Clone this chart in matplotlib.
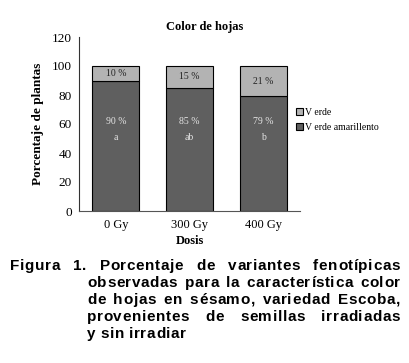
import matplotlib.pyplot as plt
import numpy as np

doses = ['0 Gy', '300 Gy', '400 Gy']
verde_amarillento = [90, 85, 79]
verde = [10, 15, 21]
letters = ['a', 'ab', 'b']
yticks = [0, 20, 40, 60, 80, 100, 120]

caption_lines = [
    'Figura 1. Porcentaje de variantes fenotípicas',
    'observadas para la característica color',
    'de hojas en sésamo, variedad Escoba,',
    'provenientes de semillas irradiadas',
    'y sin irradiar',
]

W, H = 409, 363
fig = plt.figure(figsize=(W / 100, H / 100), dpi=100)
ax = fig.add_axes([79 / W, 1 - 211 / H, 221 / W, 174 / H])

serif = ['Liberation Serif', 'DejaVu Serif']
sans = ['Liberation Sans', 'DejaVu Sans']
dark = '#5f5f5f'
light = '#b3b3b3'

x = np.arange(len(doses))
ax.bar(x, verde_amarillento, width=0.64, color=dark, edgecolor='black', linewidth=0.8,
       label='V erde amarillento')
ax.bar(x, verde, width=0.64, bottom=verde_amarillento, color=light, edgecolor='black',
       linewidth=0.8, label='V erde')

for i in range(len(doses)):
    top_mid = verde_amarillento[i] + verde[i] / 2
    ax.text(x[i], top_mid, f'{verde[i]} %', ha='center', va='center', fontsize=7,
            family=serif, color='#222222')
    ax.text(x[i], 62, f'{verde_amarillento[i]} %', ha='center', va='center', fontsize=7,
            family=serif, color='#e6e6e6')
    ax.text(x[i], 51, letters[i], ha='center', va='center', fontsize=7,
            family=serif, color='#e6e6e6')

ax.set_xlim(-0.5, 2.5)
ax.set_ylim(0, 120)
ax.set_xticks(x)
ax.set_xticklabels(doses, family=serif, fontsize=9)
ax.set_yticks(yticks)
ax.set_yticklabels([str(v) for v in yticks], family=serif, fontsize=9.5)
ax.tick_params(length=0)
ax.tick_params(axis='y', pad=5)
ax.tick_params(axis='x', pad=6)
for s in ['top', 'right']:
    ax.spines[s].set_visible(False)
ax.spines['left'].set_color('#333333')
ax.spines['bottom'].set_color('#555555')
ax.set_ylabel('Porcentaje de plantas', family=serif, fontsize=9.5, fontweight='bold', labelpad=6)
ax.set_xlabel('Dosis', family=serif, fontsize=9, fontweight='bold', labelpad=3)

fig.text(205 / W, 1 - 27 / H, 'Color de hojas', ha='center', va='center', family=serif,
         fontsize=9, fontweight='bold')

handles, labels = ax.get_legend_handles_labels()
leg = fig.legend(handles[::-1], labels[::-1], loc='upper left', bbox_to_anchor=(292 / W, 1 - 104 / H),
                 frameon=False, prop={'family': serif, 'size': 7}, handlelength=0.7,
                 handleheight=0.7, handletextpad=0.2, labelspacing=0.6, borderaxespad=0)

# justified caption, drawn letter by letter with a little extra tracking
renderer = fig.canvas.get_renderer()
line_y = [266, 283, 300, 317, 334]
tracking = 0.6
cap_size = 11
measure = fig.text(0, 0, '', fontsize=cap_size, family=sans, fontweight='bold')


def text_width(s):
    measure.set_text(s)
    return measure.get_window_extent(renderer).width if s else 0.0


for k, line in enumerate(caption_lines):
    words = line.split(' ')
    x0 = 10 if k == 0 else 87
    x1 = 400
    widths = [text_width(w) + tracking * (len(w) - 1) for w in words]
    if k < len(caption_lines) - 1 and len(words) > 1:
        gap = (x1 - x0 - sum(widths)) / (len(words) - 1)
    else:
        gap = 5
    pos = x0
    for w, wd in zip(words, widths):
        for j, ch in enumerate(w):
            cx = pos + text_width(w[:j]) + tracking * j
            fig.text(cx / W, 1 - line_y[k] / H, ch, ha='left', va='center', fontsize=cap_size,
                     family=sans, fontweight='bold')
        pos += wd + gap
measure.set_text('')

fig.savefig('out.png', dpi=100)
